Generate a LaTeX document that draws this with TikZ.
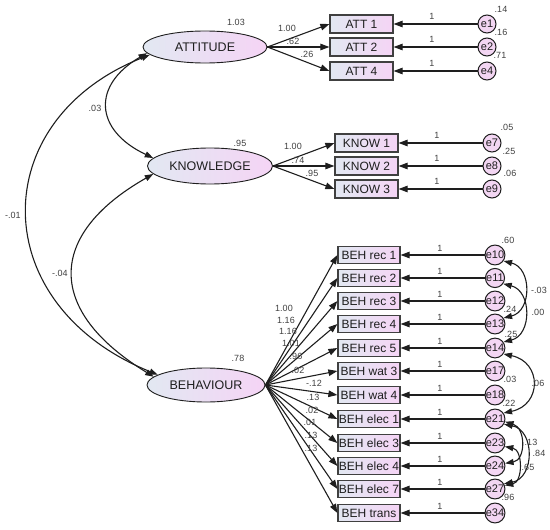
\documentclass[tikz,border=0pt]{standalone}
\usepackage{fontspec}
\setmainfont{Liberation Sans}
\usetikzlibrary{shapes.geometric,arrows.meta}
\definecolor{lblue}{RGB}{226,232,242}
\definecolor{lpink}{RGB}{245,212,245}
\definecolor{cpink}{RGB}{243,214,243}
\definecolor{ink}{RGB}{30,30,30}
\begin{document}
\begin{tikzpicture}[x=1pt,y=-1pt,
 latent/.style={ellipse, draw=ink, line width=0.9pt, left color=lblue, right color=lpink, inner sep=0pt, font=\fontsize{12.5}{12.5}\selectfont, text=ink},
 obs/.style={rectangle, draw=ink!85, line width=1.2pt, left color=lblue, right color=lpink, minimum height=18pt, inner sep=0pt, font=\fontsize{12}{12}\selectfont, text=ink},
 err/.style={circle, draw=ink, line width=1pt, fill=cpink, minimum size=18pt, inner sep=0pt, font=\fontsize{11}{11}\selectfont, text=ink},
 lbl/.style={font=\fontsize{9}{9}\selectfont, text=black!75, inner sep=0pt},
 tip/.style={-{Triangle[length=9pt,width=6.5pt]}, line width=1.1pt, draw=ink},
 cov/.style={{Triangle[length=8.5pt,width=6pt]}-{Triangle[length=8.5pt,width=6pt]}, line width=1.1pt, draw=ink}
]
\useasboundingbox (0,0) rectangle (550,530);
% latent variables
\node[latent, minimum width=124pt, minimum height=32pt] (att) at (205,47) {ATTITUDE};
\node[latent, minimum width=125pt, minimum height=36pt] (kn) at (210,166) {KNOWLEDGE};
\node[latent, minimum width=118pt, minimum height=34pt] (beh) at (206,385) {BEHAVIOUR};
\node[lbl] at (236,22) {1.03};
\node[lbl] at (240,143) {.95};
\node[lbl] at (238,358) {.78};
% attitude block
\foreach \nn/\y/\tx/\en/\ld/\lx/\ly in {
 1/24/ATT 1/e1/1.00/287/28,
 2/47/ATT 2/e2/.62/293/41,
 4/71/ATT 4/e4/.26/307/54}{
 \node[obs, minimum width=63pt] (a\nn) at (361.5,\y) {\tx};
 \node[err] (\en) at (487,\y) {\en};
 \draw[tip] (att.east) -- (a\nn.west);
 \draw[tip] (\en) -- (a\nn.east);
 \node[lbl] at (432,\y-8) {1};
 \node[lbl] at (\lx,\ly) {\ld};
}
\node[lbl] at (501,9) {.14};
\node[lbl] at (501,32) {.16};
\node[lbl] at (500,55) {.71};
% knowledge block
\foreach \nn/\y/\tx/\en/\ld/\lx/\ly in {
 1/143/KNOW 1/e7/1.00/293/146,
 2/166/KNOW 2/e8/.74/298/160,
 3/189/KNOW 3/e9/.95/312/173}{
 \node[obs, minimum width=63pt] (k\nn) at (366.5,\y) {\tx};
 \node[err] (\en) at (492,\y) {\en};
 \draw[tip] (kn.east) -- (k\nn.west);
 \draw[tip] (\en) -- (k\nn.east);
 \node[lbl] at (437,\y-8) {1};
 \node[lbl] at (\lx,\ly) {\ld};
}
\node[lbl] at (507,127) {.05};
\node[lbl] at (509,151) {.25};
\node[lbl] at (510,173) {.06};
% behaviour block
\foreach \nn/\y/\tx/\en/\ld/\lx/\ly in {
 1/255/BEH rec 1/e10/1.00/284/308,
 2/278/BEH rec 2/e11/1.16/286/320,
 3/301/BEH rec 3/e12/1.16/288/331,
 4/324/BEH rec 4/e13/1.01/291/343,
 5/348/BEH rec 5/e14/.96/296/356,
 6/371/BEH wat 3/e17/.02/298/370,
 7/395/BEH wat 4/e18/-.12/314/383,
 8/419/BEH elec 1/e21/.13/313/397,
 9/443/BEH elec 3/e23/.02/312/410,
 10/466/BEH elec 4/e24/.01/310/422,
 11/489/BEH elec 7/e27/.13/311/435,
 12/513/BEH trans/e34/.13/311/448}{
 \node[obs, minimum width=62pt, minimum height=17pt] (b\nn) at (369,\y) {\tx};
 \node[err] (\en) at (495,\y) {\en};
 \draw[tip] (beh.east) -- (b\nn.west);
 \draw[tip] (\en) -- (b\nn.east);
 \node[lbl] at (440,\y-7) {1};
 \node[lbl] at (\lx,\ly) {\ld};
}
\node[lbl] at (508,240) {.60};
\node[lbl] at (510,309) {.24};
\node[lbl] at (511,334) {.25};
\node[lbl] at (510,379) {.03};
\node[lbl] at (509,403) {.22};
\node[lbl] at (508,497) {.96};
% covariances among latents
\draw[cov] (att.186) .. controls (92,85) and (94,130) .. (kn.172);
\node[lbl] at (95,108) {.03};
\draw[cov] (att.188) .. controls (-15,120) and (-15,305) .. (beh.168);
\node[lbl] at (13,215) {-.01};
\draw[cov] (kn.188) .. controls (46,235) and (46,311) .. (beh.171);
\node[lbl] at (60,273) {-.04};
% covariances among errors
\draw[cov] (e10.-35) .. controls (532,268) and (532,311) .. (e13.35);
\node[lbl] at (539,290) {-.03};
\draw[cov] (e11.-35) .. controls (532,291) and (532,335) .. (e14.35);
\node[lbl] at (538,312) {.00};
\draw[cov] (e14.-35) .. controls (542,362) and (542,405) .. (e21.35);
\node[lbl] at (538,383) {.06};
\draw[cov] (e21.-30) .. controls (535,430) and (535,478) .. (e27.30);
\node[lbl] at (539,453) {.84};
\draw[cov] (e21.-15) .. controls (526,428) and (526,460) .. (e24.15);
\node[lbl] at (531,442) {.13};
\draw[cov] (e23.-20) .. controls (523,450) and (523,482) .. (e27.20);
\node[lbl] at (528,467) {.65};
\end{tikzpicture}
\end{document}
